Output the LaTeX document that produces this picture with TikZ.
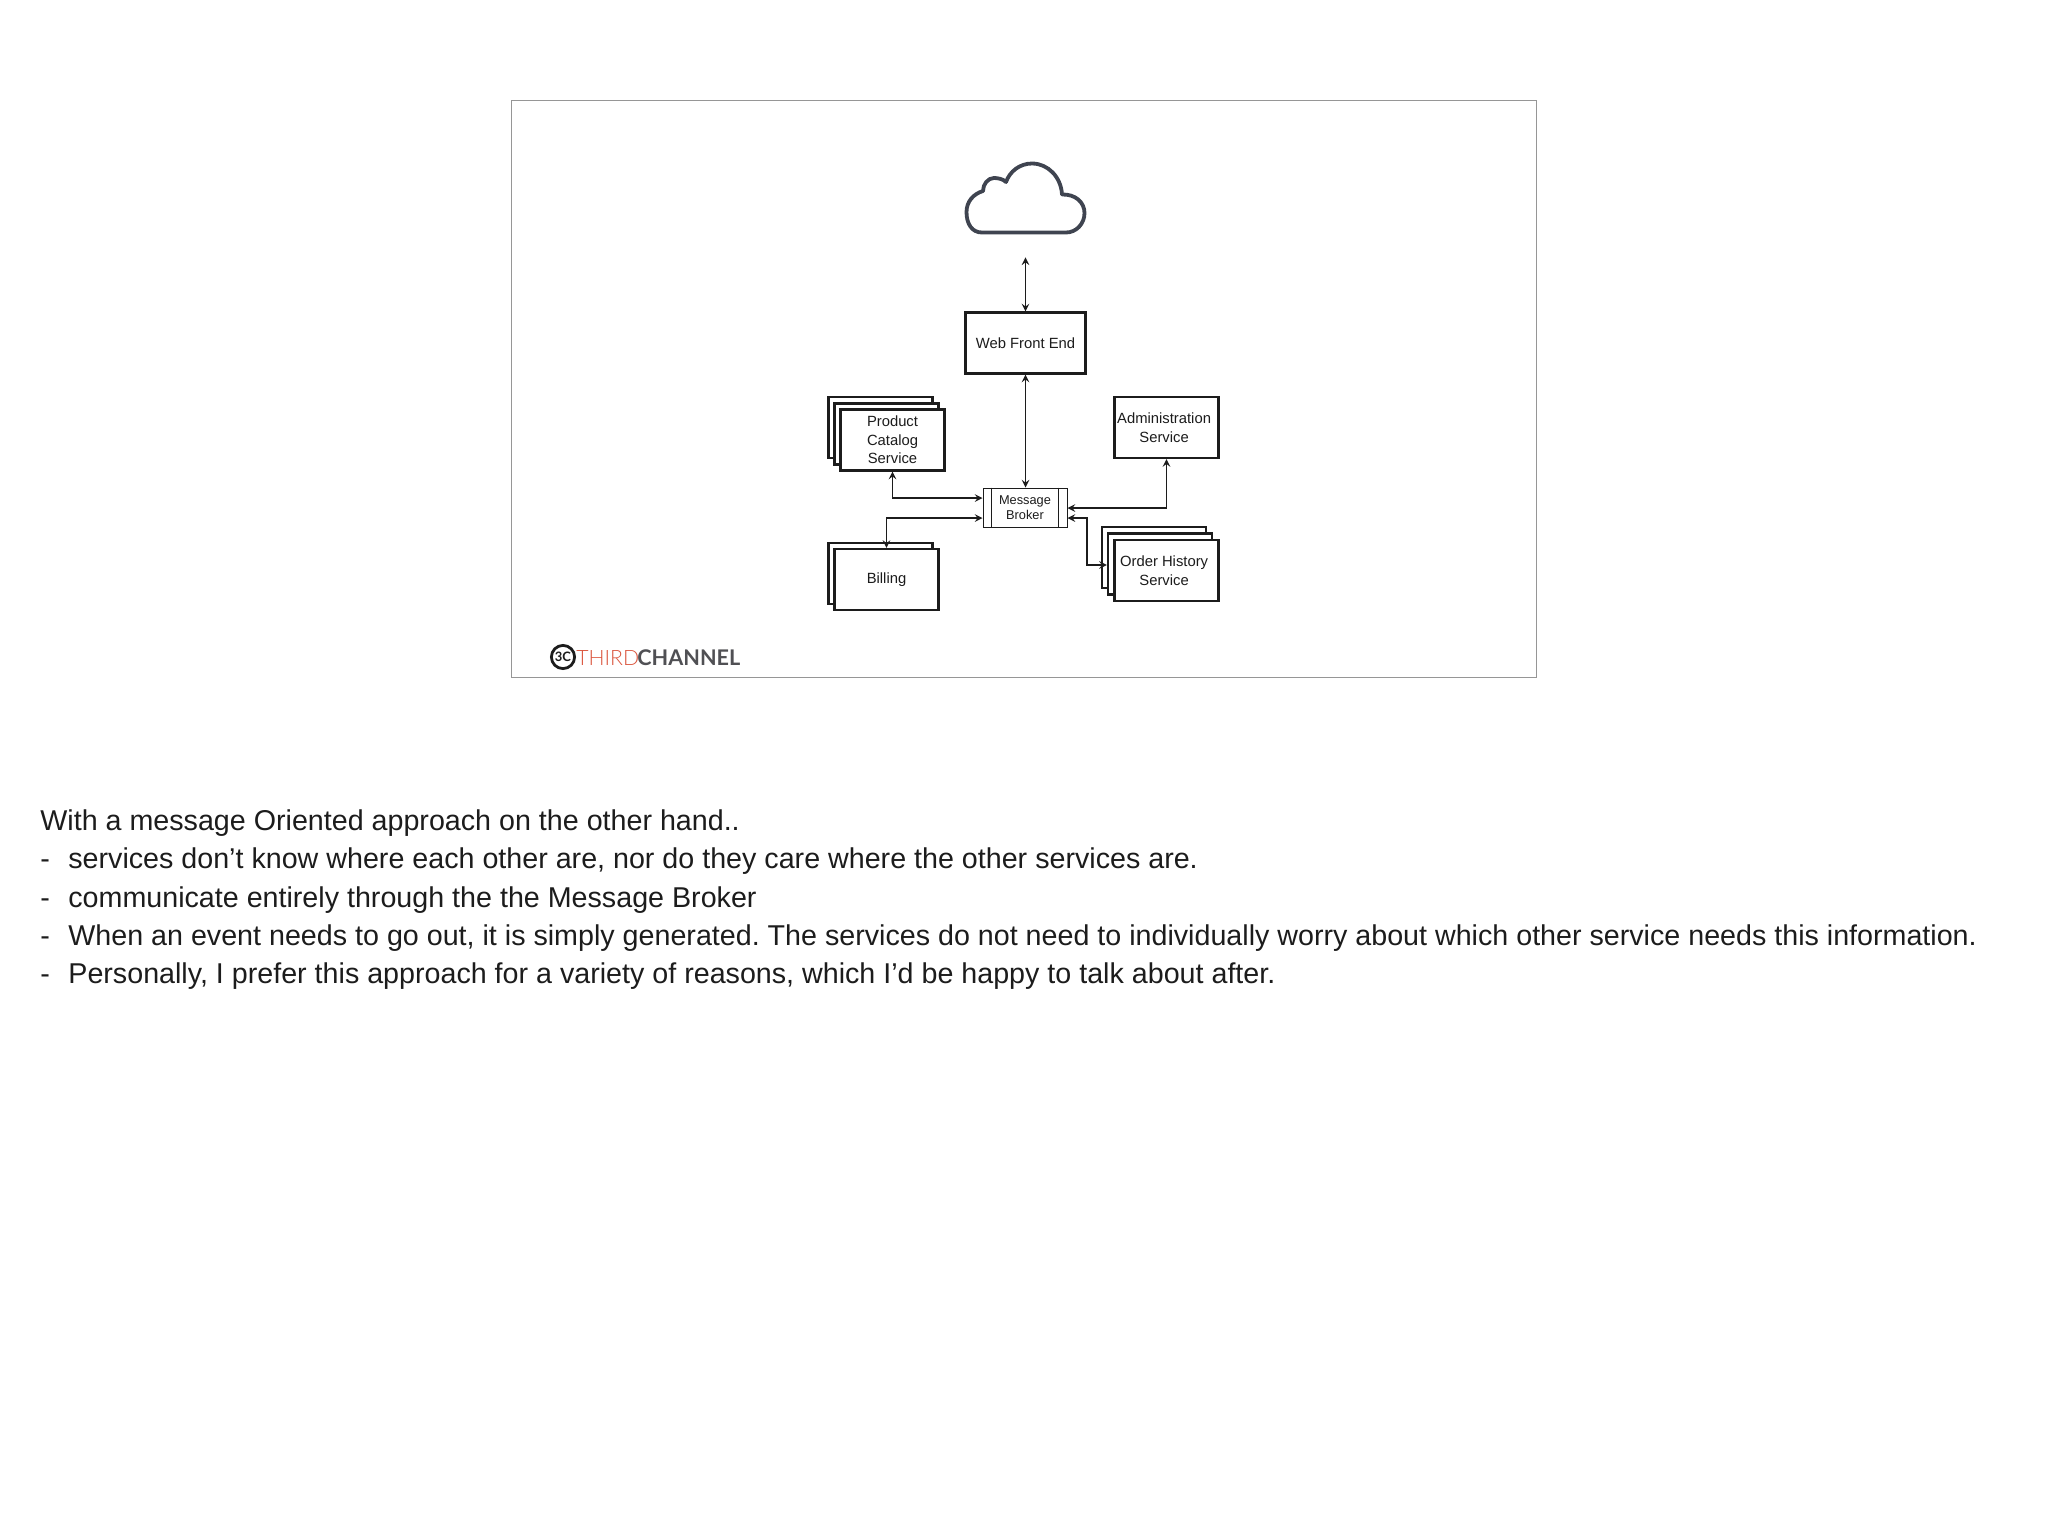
\documentclass[tikz,border=0pt]{standalone}
\usepackage{fontspec}
\setmainfont{Liberation Sans}
\newfontfamily\logofont{Lato}
\newfontfamily\logolight{Lato Light}
\usetikzlibrary{arrows, positioning, calc}
\definecolor{cloudgrey}{RGB}{63, 68, 80}
\definecolor{logored}{RGB}{218, 84, 60}
\definecolor{logogrey}{RGB}{80, 80, 84}
\definecolor{framegrey}{RGB}{150, 150, 150}
\definecolor{inkblack}{RGB}{28, 28, 28}
\newcommand{\nudge}{\hspace*{2.4pt}}

\begin{document}
\frenchspacing
\begin{tikzpicture}[x=0.5pt, y=-0.5pt, >=stealth]
    \tikzstyle{service}=[rectangle, draw=inkblack, line width=1.25pt, fill=white, minimum width=51.9pt, minimum height=30.3pt, inner sep=0pt, align=center, text=inkblack, font=\fontsize{7.4}{9.3}\selectfont]
    \tikzstyle{link}=[<->, inkblack, line width=0.7pt]
    \tikzstyle{bodyline}=[anchor=base west, inner sep=0pt, text=inkblack, font=\fontsize{14.33}{17}\selectfont]

    \useasboundingbox (0, 0) rectangle (2048, 1527);

    % Slide frame
    \node[draw=framegrey, line width=0.6pt, minimum width=512.5pt, minimum height=288.5pt, inner sep=0pt] (slide) at (1024, 388.75) {};

    % Cloud
    \node[minimum width=60.5pt, minimum height=36pt, inner sep=0pt] (cloud) at (1025.5, 198) {};
    \draw[cloudgrey, line width=1.9pt, line join=round] (982, 232.5) -- (1066, 232.5)
        .. controls (1076, 232.5) and (1084.5, 224) .. (1084.5, 213)
        .. controls (1084.5, 202) and (1075, 194) .. (1062, 194.5)
        .. controls (1061, 177) and (1048, 163.5) .. (1032, 163.5)
        .. controls (1020, 163.5) and (1010, 171) .. (1006, 182)
        .. controls (1003, 179) and (998, 178) .. (994, 178)
        .. controls (988, 178) and (983, 184) .. (983, 191)
        .. controls (973, 194) and (966.5, 202) .. (966.5, 212)
        .. controls (966.5, 224) and (972, 232.5) .. (982, 232.5) -- cycle;

    % Services
    \node[service, minimum width=60pt] (web) at (1025.5, 343) {Web Front End};
    \node[service] (admin) at (1166.5, 427.5) {Administration\nudge\\Service\nudge};

    \foreach \x/\y/\name in {880.5/427.5/catb,886.5/434/catm} {
        \node[service] (\name) at (\x, \y) {};
    }
    \node[service] (catalog) at (892.5, 440) {Product\\Catalog\\Service};

    \node[service] (billb) at (880.5, 573.5) {};
    \node[service] (billing) at (886.5, 579.5) {Billing};

    \foreach \x/\y/\name in {1154/557.5/ordb,1160/564/ordm} {
        \node[service] (\name) at (\x, \y) {};
    }
    \node[service] (order) at (1166.5, 570.5) {Order History\nudge\\Service\nudge};

    % Message broker
    \node[draw=inkblack, line width=0.5pt, minimum width=42pt, minimum height=19.5pt, inner sep=0pt, align=center, text=inkblack, font=\fontsize{6.4}{7.6}\selectfont] (broker) at (1025, 507.5) {Message\\Broker};
    \draw[inkblack, line width=0.5pt] ($(broker.north west)+(9, 0)$) -- ($(broker.south west)+(9, 0)$);
    \draw[inkblack, line width=0.5pt] ($(broker.north east)+(-9, 0)$) -- ($(broker.south east)+(-9, 0)$);

    % Connections
    \draw[link] ($(cloud.south)+(0, 23)$) -- (web.north);
    \draw[link] (web.south) -- (broker.north -| web.south);
    \draw[link] (catalog.south) |- ($(broker.west)+(0, -9.5)$);
    \draw[link] (billing.north) |- ($(broker.west)+(0, 10.5)$);
    \draw[link] (admin.south) |- ($(broker.east)+(0, 0.5)$);
    \draw[link] ($(broker.east)+(0, 10.5)$) -| ($(ordm.west)+(-20, 1)$) -- ($(ordm.west)+(0, 1)$);

    % Logo
    \node[circle, draw=inkblack, line width=1.4pt, minimum size=11.6pt, inner sep=0pt, text=inkblack, font=\logofont\bfseries\fontsize{6.5}{6.5}\selectfont] (logomark) at (563, 657) {3C};
    \node[anchor=base west, inner sep=0pt, text=logored, font=\logolight\fontsize{10.6}{11}\selectfont] (third) at (576, 665) {THIRD};
    \node[anchor=base west, inner sep=0pt, text=logogrey, font=\logofont\bfseries\fontsize{10.8}{11}\selectfont] (channel) at (637, 665) {CHANNEL};

    % Notes
    \node[bodyline] (intro) at (40, 830) {With a message Oriented approach on the other hand..};
    \foreach \y/\name/\line in {868/noteone/{services don’t know where each other are, nor do they care where the other services are.},
        907/notetwo/{communicate entirely through the the Message Broker},
        945/notethree/{When an event needs to go out, it is simply generated. The services do not need to individually worry about which other service needs this information.},
        983/notefour/{Personally, I prefer this approach for a variety of reasons, which I’d be happy to talk about after.}} {
        \node[bodyline] (dash\name) at (40, \y) {-};
        \node[bodyline] (\name) at (68, \y) {\line};
    }
\end{tikzpicture}
\end{document}
